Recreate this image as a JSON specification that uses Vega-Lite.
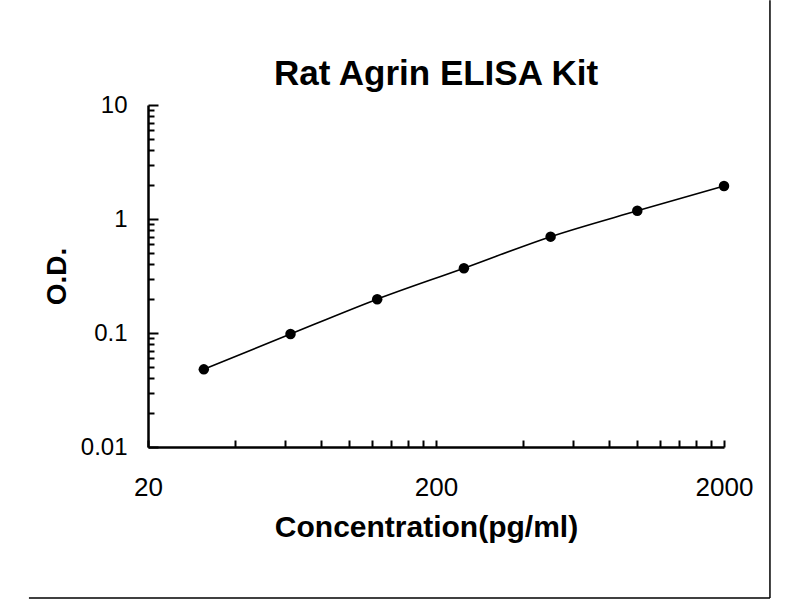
{
  "$schema": "https://vega.github.io/schema/vega-lite/v6.json",
  "width": 576,
  "height": 342,
  "autosize": "none",
  "padding": {"left": 148, "top": 105, "right": 76, "bottom": 153},
  "background": "white",
  "config": {
    "view": {"stroke": null},
    "font": "Liberation Sans",
    "axis": {
      "grid": false,
      "domainColor": "black",
      "domainWidth": 2.5,
      "tickColor": "black",
      "tickWidth": 2,
      "labelColor": "black",
      "labelFont": "Liberation Sans",
      "labelFlush": false,
      "titleColor": "black",
      "titleFont": "Liberation Sans",
      "titleFontWeight": "bold"
    }
  },
  "title": {
    "text": "Rat Agrin ELISA Kit",
    "font": "Liberation Sans",
    "fontSize": 35,
    "fontWeight": "bold",
    "color": "black",
    "offset": 0,
    "dy": 93
  },
  "datasets": {
    "curve": [
      {"conc": 31.25, "od": 0.048},
      {"conc": 62.5, "od": 0.098},
      {"conc": 125, "od": 0.198},
      {"conc": 250, "od": 0.37},
      {"conc": 500, "od": 0.70},
      {"conc": 1000, "od": 1.18},
      {"conc": 2000, "od": 1.95}
    ],
    "frame": [
      {"edge": "right"}
    ]
  },
  "layer": [
    {
      "data": {"name": "curve"},
      "mark": {"type": "line", "color": "black", "strokeWidth": 1.6, "interpolate": "monotone"},
      "encoding": {
        "x": {
          "field": "conc",
          "type": "quantitative",
          "title": "Concentration(pg/ml)",
          "scale": {"type": "log", "domain": [20, 2000], "nice": false},
          "axis": {
            "values": [20, 40, 60, 80, 100, 120, 140, 160, 180, 200, 400, 600, 800, 1000, 1200, 1400, 1600, 1800, 2000],
            "labelExpr": "indexof([20, 200, 2000], datum.value) >= 0 ? datum.value + '' : ''",
            "labelFontSize": 26,
            "titleFontSize": 30,
            "titleX": 278,
            "tickSize": -7,
            "labelPadding": 34,
            "titlePadding": 12
          }
        },
        "y": {
          "field": "od",
          "type": "quantitative",
          "title": "O.D.",
          "scale": {"type": "log", "domain": [0.01, 10], "nice": false},
          "axis": {
            "values": [0.01, 0.02, 0.03, 0.04, 0.05, 0.06, 0.07, 0.08, 0.09, 0.1, 0.2, 0.3, 0.4, 0.5, 0.6, 0.7, 0.8, 0.9, 1, 2, 3, 4, 5, 6, 7, 8, 9, 10],
            "labelExpr": "indexof([0.01, 0.1, 1, 10], datum.value) >= 0 ? datum.value + '' : ''",
            "labelFontSize": 24,
            "titleFontSize": 28,
            "tickSize": {"condition": {"test": "indexof([0.01, 0.1, 1, 10], datum.value) >= 0", "value": -10}, "value": -6},
            "labelPadding": 31,
            "titlePadding": 9
          }
        }
      }
    },
    {
      "data": {"name": "curve"},
      "mark": {"type": "point", "filled": true, "color": "black", "opacity": 1, "size": 110},
      "encoding": {
        "x": {"field": "conc", "type": "quantitative"},
        "y": {"field": "od", "type": "quantitative"}
      }
    },
    {
      "data": {"name": "frame"},
      "mark": {"type": "rule", "color": "black", "strokeWidth": 1.5},
      "encoding": {
        "x": {"datum": 2888, "type": "quantitative"},
        "y": {"datum": 83, "type": "quantitative"},
        "y2": {"datum": 0.000473}
      }
    },
    {
      "data": {"name": "frame"},
      "mark": {"type": "rule", "color": "black", "strokeWidth": 1.5},
      "encoding": {
        "x": {"datum": 7.72, "type": "quantitative"},
        "x2": {"datum": 2888},
        "y": {"datum": 0.000473, "type": "quantitative"}
      }
    }
  ]
}
